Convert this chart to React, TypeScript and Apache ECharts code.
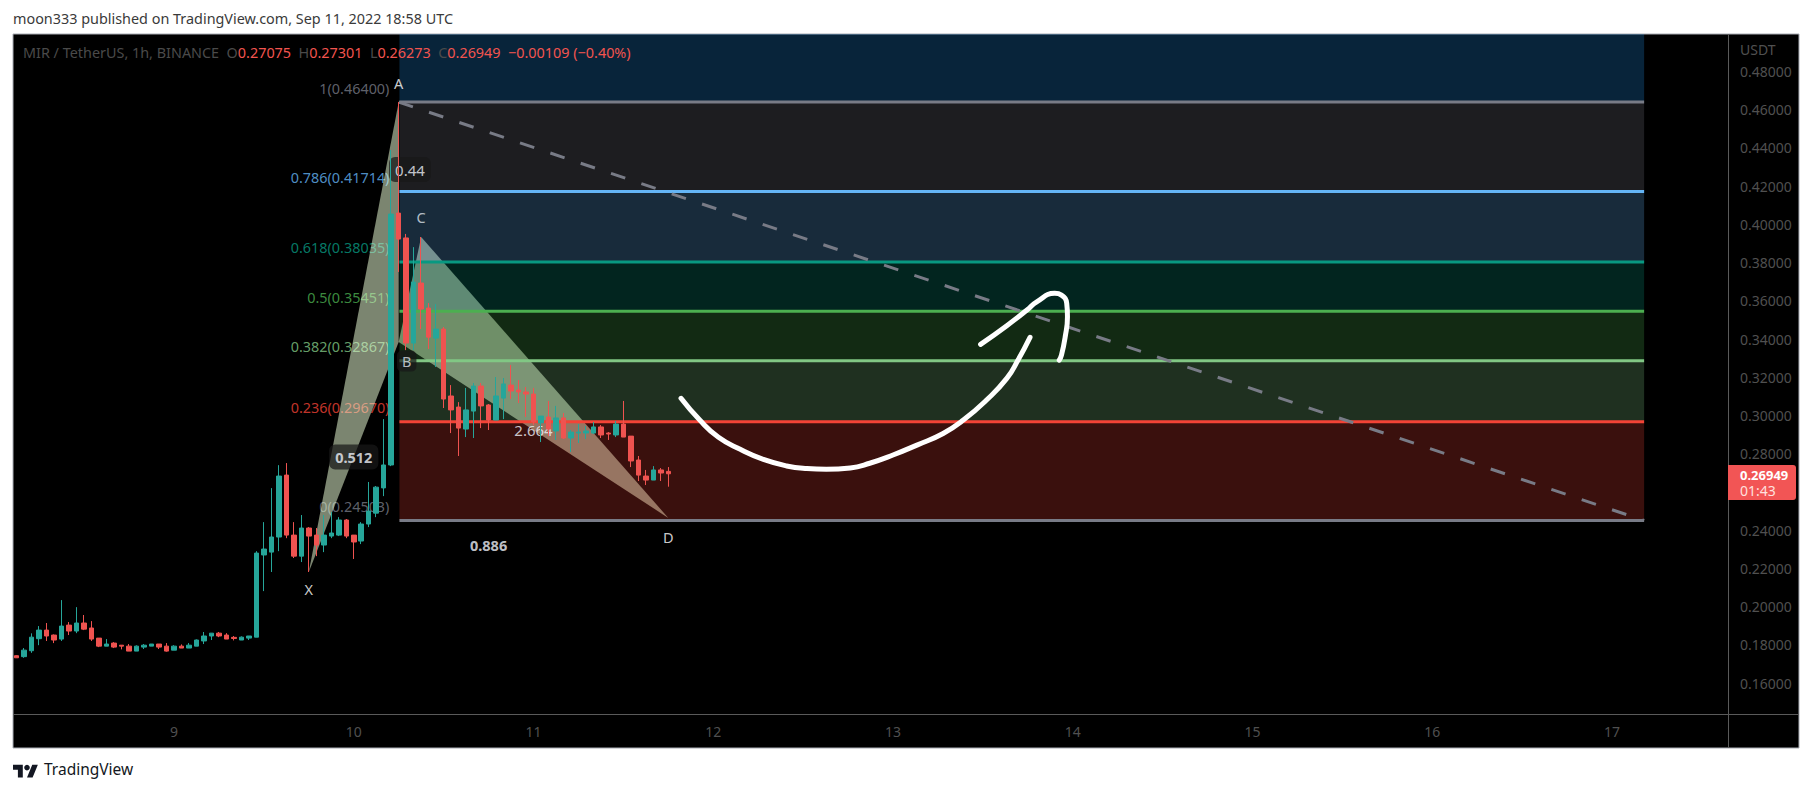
import React, { useEffect, useRef } from "react";

import * as echarts from "echarts";

// [open, close, low, high]
const candles: number[][] = [
  [0.1743, 0.1732, 0.1731, 0.1745], [0.1738, 0.1772, 0.1732, 0.1783], [0.1769, 0.184, 0.1758, 0.186],
  [0.1832, 0.1877, 0.1798, 0.1898], [0.1877, 0.1846, 0.182, 0.1914], [0.1851, 0.1825, 0.1809, 0.1854],
  [0.183, 0.1898, 0.182, 0.2034], [0.1903, 0.1872, 0.1851, 0.1919], [0.1872, 0.1914, 0.1861, 0.1997],
  [0.1914, 0.1882, 0.1877, 0.1956], [0.1888, 0.183, 0.182, 0.1924], [0.1835, 0.1793, 0.1788, 0.1835],
  [0.1793, 0.1804, 0.1793, 0.183], [0.1809, 0.1788, 0.1783, 0.1814], [0.1798, 0.1793, 0.1776, 0.1798],
  [0.1793, 0.1767, 0.1767, 0.1804], [0.1767, 0.1793, 0.1767, 0.1797], [0.1788, 0.1798, 0.1778, 0.1804],
  [0.1793, 0.1804, 0.1793, 0.1804], [0.1804, 0.1788, 0.1778, 0.1804], [0.1793, 0.1767, 0.1764, 0.1809],
  [0.1772, 0.1793, 0.1772, 0.1798], [0.1793, 0.1783, 0.1783, 0.1802], [0.1783, 0.1798, 0.1783, 0.1809],
  [0.1793, 0.1825, 0.1793, 0.1828], [0.182, 0.1846, 0.1804, 0.1867], [0.1846, 0.1861, 0.1825, 0.1861],
  [0.1861, 0.1846, 0.184, 0.1867], [0.1851, 0.183, 0.183, 0.1861], [0.1839, 0.1833, 0.1823, 0.1846],
  [0.1825, 0.184, 0.1825, 0.1844], [0.1835, 0.1846, 0.1825, 0.1846], [0.184, 0.228, 0.184, 0.229],
  [0.227, 0.2301, 0.2081, 0.2442], [0.2285, 0.2364, 0.2181, 0.262], [0.2364, 0.2683, 0.229, 0.274],
  [0.2688, 0.2374, 0.2358, 0.2751], [0.2374, 0.2264, 0.2254, 0.2442], [0.2264, 0.2411, 0.2233, 0.2479],
  [0.2411, 0.2369, 0.2181, 0.2416], [0.2374, 0.2322, 0.2264, 0.2411], [0.2322, 0.2374, 0.2285, 0.2479],
  [0.2369, 0.2385, 0.2358, 0.2495], [0.2374, 0.2453, 0.2369, 0.2468], [0.2453, 0.2369, 0.2358, 0.2458],
  [0.2374, 0.2338, 0.2249, 0.2374], [0.2343, 0.2432, 0.2327, 0.2442], [0.2432, 0.25, 0.2416, 0.2652],
  [0.2489, 0.2625, 0.2468, 0.2631], [0.2621, 0.2741, 0.2578, 0.2981], [0.2741, 0.4054, 0.2735, 0.4389],
  [0.4059, 0.3923, 0.3751, 0.464], [0.3929, 0.3379, 0.3342, 0.395], [0.3379, 0.3698, 0.3342, 0.3881],
  [0.3693, 0.3557, 0.3452, 0.3934], [0.3562, 0.341, 0.3348, 0.3588], [0.3405, 0.3452, 0.3254, 0.3583],
  [0.3452, 0.3086, 0.3039, 0.3463], [0.3102, 0.3029, 0.2908, 0.3159], [0.3044, 0.2934, 0.2788, 0.307],
  [0.2929, 0.3029, 0.2887, 0.3144], [0.3023, 0.3154, 0.2882, 0.317], [0.3154, 0.305, 0.2934, 0.317],
  [0.3055, 0.2976, 0.2924, 0.306], [0.2976, 0.3102, 0.2976, 0.3201], [0.3091, 0.3165, 0.2981, 0.3196],
  [0.3159, 0.3128, 0.3086, 0.3264], [0.3133, 0.3123, 0.3065, 0.3185], [0.3123, 0.3112, 0.2992, 0.3149],
  [0.3112, 0.2966, 0.295, 0.3144], [0.2961, 0.2997, 0.2861, 0.2997], [0.2992, 0.2929, 0.2892, 0.3076],
  [0.2919, 0.2987, 0.2872, 0.305], [0.2987, 0.2882, 0.2877, 0.3013], [0.2882, 0.2913, 0.2809, 0.2924],
  [0.2908, 0.2913, 0.2856, 0.2955], [0.2908, 0.2919, 0.2877, 0.2945], [0.2908, 0.294, 0.2903, 0.2966],
  [0.294, 0.2898, 0.2882, 0.295], [0.2908, 0.2903, 0.2872, 0.2913], [0.2898, 0.2955, 0.2887, 0.2971],
  [0.2955, 0.2887, 0.2887, 0.3076], [0.2892, 0.2762, 0.273, 0.2892], [0.2767, 0.2688, 0.2657, 0.2788],
  [0.2683, 0.2662, 0.2636, 0.2715], [0.2662, 0.2715, 0.2662, 0.2735], [0.2715, 0.2699, 0.2657, 0.2725],
  [0.27075, 0.26949, 0.26273, 0.27301],
];

const priceTicks = [0.16, 0.18, 0.2, 0.22, 0.24, 0.28, 0.3, 0.32, 0.34, 0.36, 0.38, 0.4, 0.42, 0.44, 0.46, 0.48];
const dayLabels = ["9", "10", "11", "12", "13", "14", "15", "16", "17"];
const dayBars = [21, 45, 69, 93, 117, 141, 165, 189, 213];
const barCount = 229;
const priceMin = 0.14379;
const priceMax = 0.49962;

const fibRatios = ["1", "0.786", "0.618", "0.5", "0.382", "0.236", "0"];
const fibPrices = [0.464, 0.41714, 0.38035, 0.35451, 0.32867, 0.2967, 0.24503];
const fibLineColors = ["#787b86", "#64b5f6", "#089981", "#4caf50", "#81c784", "#f44336", "#787b86"];
const fibTopColor = "#2196f3";
const fibStart = 51.6;
const fibEnd = 217.8;

// harmonic pattern points, in bars and price
const patternNames = ["X", "A", "B", "C", "D"];
const patternBars = [39.5, 51.5, 51.5, 54.5, 87.5];
const patternPrices = [0.2181, 0.464, 0.3384, 0.3934, 0.2464];
const patternTriangles = [[0, 1, 2], [2, 3, 4]];
const patternRatios = [
  { text: "0.512", from: 0, to: 2 },
  { text: "0.44", from: 1, to: 3 },
  { text: "2.664", from: 2, to: 4 },
  { text: "0.886", from: 0, to: 4 },
];

const arrowBodyBars = [89.2, 91.7, 94.2, 97.1, 100.2, 103.3, 106, 108.6, 111.8, 114.4, 117.5, 120.7, 124.2, 126.9, 130, 132.7, 134.2, 135.8];
const arrowBodyPrices = [0.309, 0.2976, 0.2886, 0.2823, 0.277, 0.2736, 0.2722, 0.2718, 0.2725, 0.275, 0.2793, 0.2845, 0.2906, 0.2976, 0.3081, 0.3194, 0.329, 0.3409];
const arrowHeadBars = [129.2, 132.7, 135.4, 136.7, 139.1, 140, 140.7, 140.8, 140.5, 140, 139.7];
const arrowHeadPrices = [0.3372, 0.347, 0.3552, 0.3595, 0.3639, 0.363, 0.3587, 0.3517, 0.3412, 0.3316, 0.329];

const font = "'Noto Sans', sans-serif";
const axisGrey = "#505050";
const LOGO_PATH = "M14 22H7V11H0V4h14v18zM28 22h-8l7.5-18h8L28 22z";

echarts.graphic.registerShape("tvlogo", echarts.graphic.extendPath(LOGO_PATH, {}) as any);

const letterOffsets: Record<string, number[]> = {
  X: [0, 17],
  A: [0, -19],
  B: [8, 19],
  C: [0, -20],
  D: [0, 19],
};
const boxedRatios = ["0.512", "0.44"];
const boldRatios = ["0.512", "0.886"];
const labelBox = "rgba(24,24,24,0.9)";

const App: React.FC = () => {
  const chartRef = useRef<HTMLDivElement>(null);

  useEffect(() => {
    if (!chartRef.current) return;
    const chart = echarts.init(chartRef.current, undefined, { renderer: "svg" });

    const categories = Array.from({ length: barCount }, (_, i) => {
      const at = dayBars.indexOf(i);
      return at >= 0 ? dayLabels[at] : "";
    });

    const bandTops = [priceMax, ...fibPrices.slice(0, -1)];
    const bandBottoms = [fibPrices[0], ...fibPrices.slice(1)];
    const bandColors = [fibTopColor, ...fibLineColors.slice(0, 1), ...fibLineColors.slice(1, 6)];

    const option: any = {
      animation: false,
      backgroundColor: "#ffffff",
      grid: { left: 13, top: 34, width: 1715, height: 680, containLabel: false },
      xAxis: [
        {
          type: "category",
          data: categories,
          boundaryGap: true,
          axisLine: { show: false },
          axisTick: { show: false },
          splitLine: { show: false },
          axisLabel: {
            interval: (i: number) => dayBars.includes(i),
            color: axisGrey,
            fontFamily: font,
            fontSize: 14,
            margin: 10,
          },
        },
        { type: "value", min: 0, max: barCount, show: false },
      ],
      yAxis: {
        type: "value",
        position: "right",
        min: priceMin,
        max: priceMax,
        axisLine: { show: false },
        axisTick: { show: false },
        splitLine: { show: false },
        axisLabel: {
          customValues: priceTicks,
          formatter: (v: number) => v.toFixed(5),
          color: axisGrey,
          fontFamily: font,
          fontSize: 14,
          margin: 12,
        },
      },
      series: [
        {
          type: "scatter",
          xAxisIndex: 1,
          z: 1,
          silent: true,
          symbolSize: 0,
          data: fibPrices.map((p, i) => ({
            value: [fibStart, p],
            label: {
              show: true,
              position: "left",
              distance: 10,
              offset: [0, -14],
              formatter: `${fibRatios[i]}(${p.toFixed(5)})`,
              color: fibLineColors[i],
              fontFamily: font,
              fontSize: 14.4,
            },
          })),
        },
        {
          type: "custom",
          xAxisIndex: 1,
          z: 2,
          silent: true,
          encode: { x: 0, y: 1 },
          data: patternTriangles.map((t) => [patternBars[t[0]], patternPrices[t[0]]]),
          renderItem: (params: any, api: any) => ({
            type: "polygon",
            shape: {
              points: patternTriangles[params.dataIndex].map((n) =>
                api.coord([patternBars[n], patternPrices[n]]),
              ),
            },
            style: { fill: "rgba(236,255,215,0.52)" },
          }),
        },
        {
          type: "custom",
          xAxisIndex: 1,
          z: 3,
          silent: true,
          encode: { x: [0, 1], y: [2, 3] },
          data: bandColors.map((_, i) => [fibStart, fibEnd, bandTops[i], bandBottoms[i]]),
          renderItem: (params: any, api: any) => {
            const a = api.coord([api.value(0), api.value(2)]);
            const b = api.coord([api.value(1), api.value(3)]);
            return {
              type: "rect",
              shape: { x: a[0], y: a[1], width: b[0] - a[0], height: b[1] - a[1] },
              style: { fill: bandColors[params.dataIndex], opacity: 0.24 },
            };
          },
        },
        ...fibPrices.map((p, i) => ({
          type: "line",
          xAxisIndex: 1,
          z: 4,
          silent: true,
          symbol: "none",
          lineStyle: { color: fibLineColors[i], width: 3 },
          data: [
            [fibStart, p],
            [fibEnd, p],
          ],
        })),
        {
          type: "line",
          xAxisIndex: 1,
          z: 4,
          silent: true,
          symbol: "none",
          lineStyle: { color: "#787b86", width: 3, type: [15, 17] },
          data: [
            [patternBars[1], fibPrices[0]],
            [fibEnd, fibPrices[6]],
          ],
        },
        {
          type: "scatter",
          xAxisIndex: 1,
          z: 5,
          silent: true,
          symbolSize: 0,
          data: patternRatios.map((r) => {
            const bold = boldRatios.includes(r.text);
            return {
              value: [
                (patternBars[r.from] + patternBars[r.to]) / 2,
                (patternPrices[r.from] + patternPrices[r.to]) / 2,
              ],
              label: {
                show: true,
                position: "inside",
                formatter: r.text,
                color: "#f0f3fa",
                fontFamily: font,
                fontSize: bold ? 14.5 : 15,
                fontWeight: bold ? "bold" : "normal",
                backgroundColor: boxedRatios.includes(r.text) ? labelBox : "transparent",
                borderRadius: 6,
                padding: [5, 6],
              },
            };
          }),
        },
        {
          type: "scatter",
          xAxisIndex: 1,
          z: 5,
          silent: true,
          symbolSize: 0,
          data: patternNames.map((name, i) => ({
            value: [patternBars[i], patternPrices[i]],
            label: {
              show: true,
              position: "inside",
              offset: letterOffsets[name],
              formatter: name,
              color: name === "B" || name === "C" ? "#dfe3ea" : "#ffffff",
              fontFamily: font,
              fontSize: 14.5,
              backgroundColor: name === "B" ? labelBox : "transparent",
              borderRadius: 5,
              padding: name === "B" ? [3, 5] : 0,
            },
          })),
        },
        {
          type: "candlestick",
          xAxisIndex: 0,
          z: 6,
          silent: true,
          barWidth: 5,
          itemStyle: {
            color: "#26a69a",
            color0: "#ef5350",
            borderColor: "#26a69a",
            borderColor0: "#ef5350",
            borderWidth: 1,
          },
          data: candles,
        },
        ...[
          [arrowBodyBars, arrowBodyPrices],
          [arrowHeadBars, arrowHeadPrices],
        ].map(([bars, prices]) => ({
          type: "line",
          xAxisIndex: 1,
          z: 7,
          silent: true,
          symbol: "none",
          smooth: 0.5,
          lineStyle: { color: "#ffffff", width: 5, cap: "round", join: "round" },
          data: bars.map((b, i) => [b, prices[i]]),
        })),
      ],
      graphic: [
        { type: "rect", z: -5, silent: true, shape: { x: 13, y: 34, width: 1786, height: 714 }, style: { fill: "#000000", stroke: "#a9acb4", lineWidth: 1 } },
        { type: "line", z: 20, silent: true, shape: { x1: 1728.5, y1: 34, x2: 1728.5, y2: 748 }, style: { stroke: "#5a5a5a", lineWidth: 1 } },
        { type: "line", z: 20, silent: true, shape: { x1: 13, y1: 714.5, x2: 1799, y2: 714.5 }, style: { stroke: "#5a5a5a", lineWidth: 1 } },
        {
          type: "text",
          z: 20,
          silent: true,
          x: 13,
          y: 11,
          style: {
            text: "moon333 published on TradingView.com, Sep 11, 2022 18:58 UTC",
            fill: "#3a3a3a",
            font: `14.4px ${font}`,
          },
        },
        {
          type: "text",
          z: 20,
          silent: true,
          x: 23,
          y: 45,
          style: {
            text: "{g|MIR / TetherUS, 1h, BINANCE  O}{r|0.27075}{g|  H}{r|0.27301}{g|  L}{r|0.26273}{g|  C}{r|0.26949}{r|  −0.00109 (−0.40%)}",
            font: `14.4px ${font}`,
            rich: {
              g: { fill: "#4a4a4a", font: `14.4px ${font}` },
              r: { fill: "#f2544f", font: `14.4px ${font}` },
            },
          },
        },
        { type: "text", z: 20, silent: true, x: 1740, y: 42, style: { text: "USDT", fill: axisGrey, font: `14px ${font}` } },
        { type: "rect", z: 20, silent: true, shape: { x: 1728, y: 465, width: 68, height: 35, r: [0, 3, 3, 0] }, style: { fill: "#f25555" } },
        { type: "text", z: 21, silent: true, x: 1740, y: 468, style: { text: "0.26949", fill: "#ffffff", font: `bold 13px ${font}` } },
        { type: "text", z: 21, silent: true, x: 1740, y: 483, style: { text: "01:43", fill: "#ffe0de", font: `14px ${font}` } },
        { type: "tvlogo", z: 20, silent: true, x: 13, y: 762, scaleX: 0.7, scaleY: 0.7, style: { fill: "#131722" } },
        { type: "circle", z: 20, silent: true, shape: { cx: 27, cy: 767.6, r: 2.8 }, style: { fill: "#131722" } },
        {
          type: "text",
          z: 20,
          silent: true,
          x: 44,
          y: 761,
          style: { text: "TradingView", fill: "#131722", font: `15.5px ${font}` },
        },
      ],
    };

    chart.setOption(option);

    return () => {
      chart.dispose();
    };
  }, []);

  return (
    <div
      ref={chartRef}
      style={{ position: "fixed", left: 0, top: 0, width: 1813, height: 793 }}
    />
  );
};

export default App;
